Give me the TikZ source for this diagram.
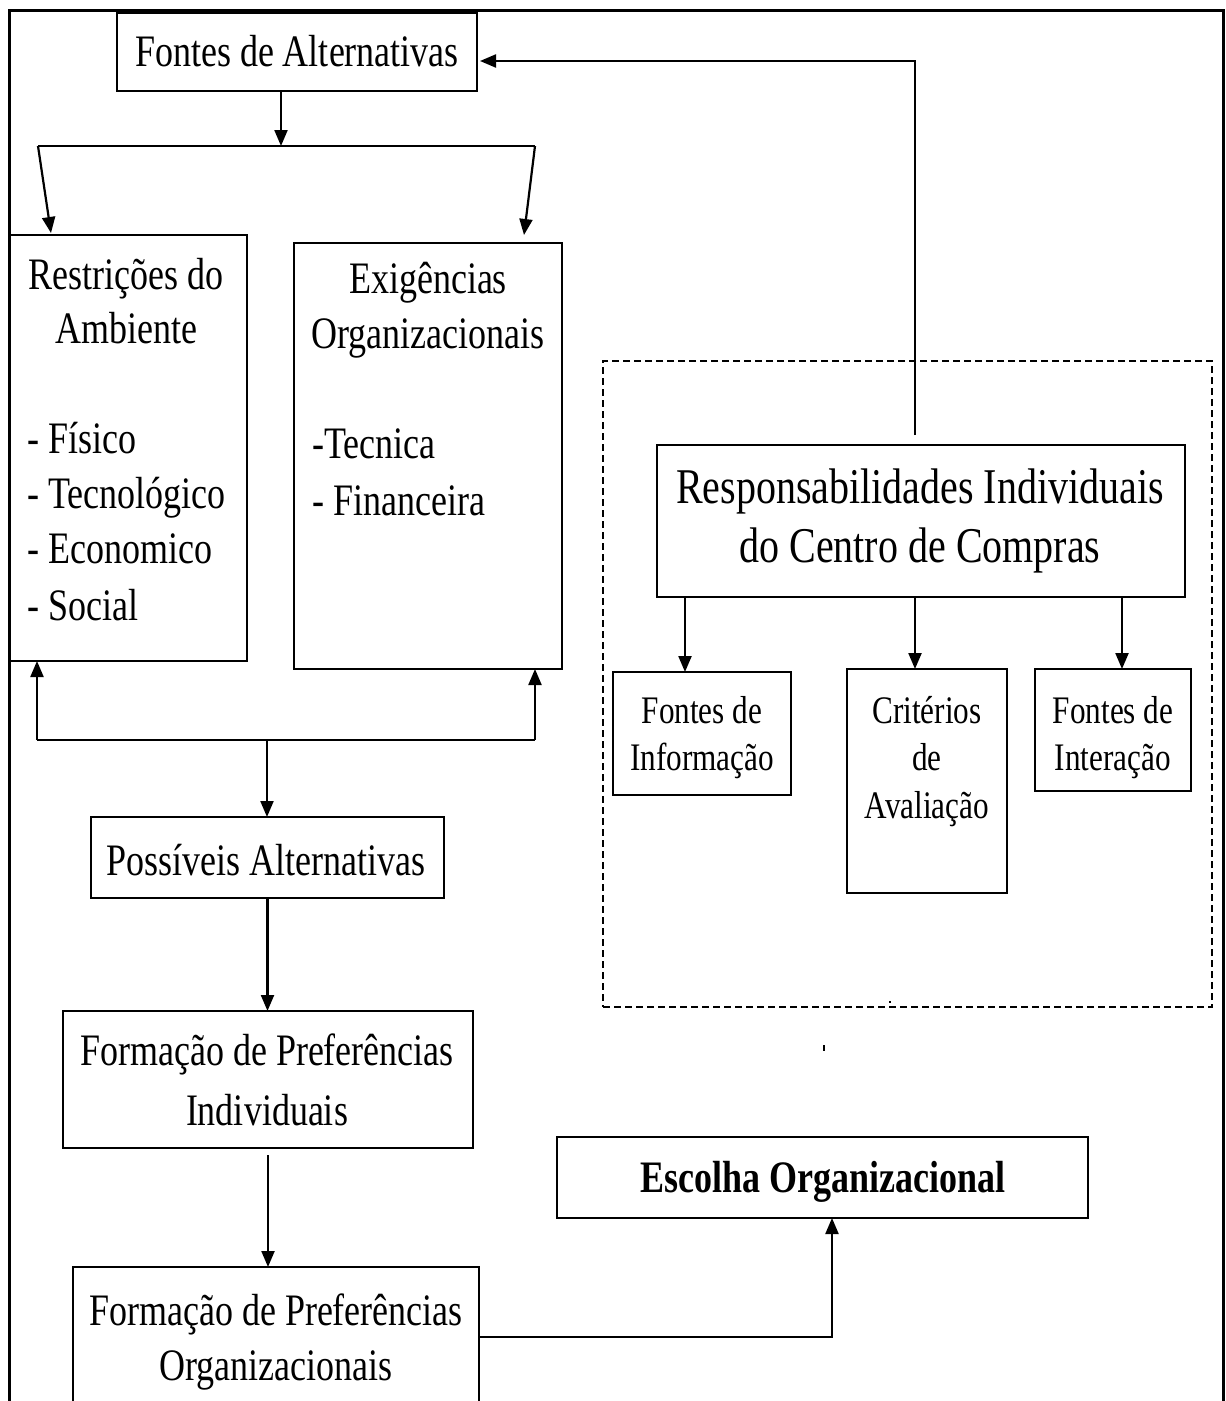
\documentclass[tikz,border=0pt]{standalone}
\usepackage{fontspec}
\newfontfamily\mainf{Liberation Serif}[FakeStretch=0.8]
\usetikzlibrary{arrows.meta,calc}

\begin{document}
\begin{tikzpicture}[x=1pt,y=-1pt,
  box/.style={draw=black, line width=2pt, inner sep=0pt, outer sep=0pt},
  group/.style={draw=black, line width=1.4pt, dash pattern=on 7pt off 4pt, inner sep=0pt, outer sep=0pt},
  conn/.style={line width=2.2pt},
  arr/.style={conn, -{Triangle[length=16pt,width=13pt]}},
  frameline/.style={line width=3pt},
  lbl/.style={inner sep=0pt, anchor=base, font=\mainf\fontsize{45}{54}\selectfont},
  lbll/.style={lbl, anchor=base west},
  lblbig/.style={lbl, font=\mainf\fontsize{50}{60}\selectfont},
  lblsm/.style={lbl, font=\mainf\fontsize{39}{47}\selectfont}]

\useasboundingbox (0,0) rectangle (1226,1401);
\clip (0,0) rectangle (1226,1401);
\fill[white] (0,0) rectangle (1226,1401);

% outer frame (open at the bottom)
\draw[frameline] (9,1410) -- (9,10) -- (1223,10) -- (1223,1410);

% ---------- left column ----------
\node[box, minimum width=360pt, minimum height=78pt] (fa) at (297,52) {};
\node[lbl] (fa-t) at (297,66) {Fontes de Alternativas};

\node[box, minimum width=237pt, minimum height=426pt] (ra) at (128.5,448) {};
\node[lbl] (ra-t1) at (126,289) {Restrições do};
\node[lbl] (ra-t2) at (126,343) {Ambiente};
\node[lbll] (ra-l1) at (27,453) {- Físico};
\node[lbll] (ra-l2) at (27,508) {- Tecnológico};
\node[lbll] (ra-l3) at (27,563) {- Economico};
\node[lbll] (ra-l4) at (27,620) {- Social};

\node[box, minimum width=268pt, minimum height=426pt] (eo) at (428,456) {};
\node[lbl] (eo-t1) at (428,293) {Exigências};
\node[lbl] (eo-t2) at (428,348) {Organizacionais};
\node[lbll] (eo-l1) at (312,458) {-Tecnica};
\node[lbll] (eo-l2) at (312,515) {- Financeira};

\node[box, minimum width=353pt, minimum height=81pt] (pa) at (267.5,857.5) {};
\node[lbl] (pa-t) at (266,875) {Possíveis Alternativas};

\node[box, minimum width=410pt, minimum height=137pt] (fpi) at (268,1079.5) {};
\node[lbl] (fpi-t1) at (267,1065) {Formação de Preferências};
\node[lbl] (fpi-t2) at (267,1125) {Individuais};

\node[box, minimum width=406pt, minimum height=163pt] (fpo) at (276,1348.5) {};
\node[lbl] (fpo-t1) at (276,1325) {Formação de Preferências};
\node[lbl] (fpo-t2) at (276,1380) {Organizacionais};

\node[box, minimum width=531pt, minimum height=81pt] (eso) at (822.5,1177.5) {};
\node[lbl, font=\mainf\bfseries\fontsize{45}{54}\selectfont] (eso-t) at (823,1192) {Escolha Organizacional};

% ---------- buying centre group ----------
\node[group, minimum width=609pt, minimum height=646pt] (grp) at (907.5,684) {};

\node[box, minimum width=528pt, minimum height=152pt] (resp) at (921,521) {};
\node[lblbig] (resp-t1) at (920,503) {Responsabilidades Individuais};
\node[lblbig] (resp-t2) at (920,562) {do Centro de Compras};

\node[box, minimum width=178pt, minimum height=123pt] (fdi) at (702,733.5) {};
\node[lblsm] (fdi-t1) at (702,723) {Fontes de};
\node[lblsm] (fdi-t2) at (702,770) {Informação};

\node[box, minimum width=160pt, minimum height=224pt] (cda) at (927,781) {};
\node[lblsm] (cda-t1) at (927,723) {Critérios};
\node[lblsm] (cda-t2) at (927,770) {de};
\node[lblsm] (cda-t3) at (927,818) {Avaliação};

\node[box, minimum width=156pt, minimum height=122pt] (fdint) at (1113,730) {};
\node[lblsm] (fdint-t1) at (1113,723) {Fontes de};
\node[lblsm] (fdint-t2) at (1113,770) {Interação};

% ---------- connectors ----------
% feedback from the buying centre to the sources of alternatives
\coordinate (fb) at (915,435);
\draw[arr, shorten >=3pt] (fb) |- ([yshift=-9pt]fa.east);

% split towards the two constraint boxes
\coordinate (split) at (281,146);
\coordinate (bl) at (38,146);
\coordinate (br) at (535,146);
\draw[arr] (fa.south -| split) -- (split);
\draw[conn] (bl) -- (br);
\draw[arr] (bl) -- ($(ra.north west)+(41,-2)$);
\draw[arr] (br) -- ($(eo.north west)+(230,-8)$);

% join below the constraint boxes
\coordinate (jl) at (37,740);
\coordinate (jr) at (535,740);
\coordinate (jm) at (267,740);
\draw[conn] (jl) -- (jr);
\draw[arr] (jl) -- (jl |- ra.south);
\draw[arr] (jr) -- (jr |- eo.south);
\draw[arr] (jm) -- (jm |- pa.north);

% main vertical chain
\draw[arr] (pa.south) -- (pa.south |- fpi.north);
\draw[arr, shorten <=7pt] (fpi.south) -- (fpi.south |- fpo.north);

% organisational preferences to organisational choice
\coordinate (elbow) at (832,1337);
\draw[arr] (fpo.east |- elbow) -| (elbow |- eso.south);

% buying centre responsibilities to its three components
\draw[arr] ($(resp.south west)+(28,0)$) coordinate (s1) -- (s1 |- fdi.north);
\draw[arr] ($(resp.south west)+(258,0)$) coordinate (s2) -- (s2 |- cda.north);
\draw[arr] ($(resp.south west)+(465,0)$) coordinate (s3) -- (s3 |- fdint.north);

% stray marks
\fill (889,1001) rectangle (891,1003);
\fill (823,1045) rectangle (825,1051);
\end{tikzpicture}
\end{document}
